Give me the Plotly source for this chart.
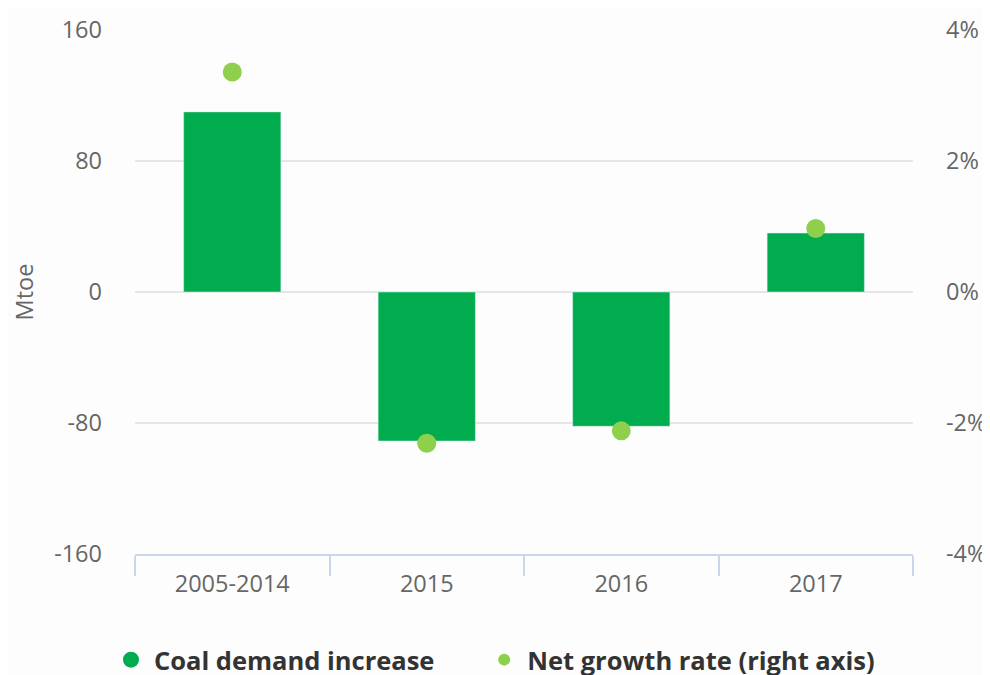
import plotly.graph_objects as go

categories = ["2005-2014", "2015", "2016", "2017"]
coal_demand_increase = [110, -91, -82, 36]
net_growth_rate = [3.36, -2.31, -2.12, 0.97]
left_ticks = [-160, -80, 0, 80, 160]
left_tick_labels = ["-160", "-80", "0", "80", "160"]
right_ticks = [-4, -2, 0, 2, 4]
right_tick_labels = ["-4%", "-2%", "0%", "2%", "4%"]

BAR = "#00ac4e"
DOT = "#8ed04b"
FONT = "Open Sans"
TICK = "#666666"
TS = 23.5
LEG_FONT = dict(family=FONT, size=25.5, color="#333333", weight="bold")

fig = go.Figure()
fig.add_trace(go.Bar(x=categories, y=coal_demand_increase, marker_color=BAR,
                     width=0.5, name="Coal demand increase", showlegend=False))
fig.add_trace(go.Scatter(x=categories, y=net_growth_rate, mode="markers", yaxis="y2",
                         marker=dict(color=DOT, size=19), name="Net growth rate (right axis)",
                         showlegend=False))
# legend entries (circle symbols as in the original)
fig.add_trace(go.Scatter(x=[None], y=[None], mode="markers", legend="legend",
                         marker=dict(color=BAR, size=16), name="Coal demand increase"))
fig.add_trace(go.Scatter(x=[None], y=[None], mode="markers", yaxis="y2", legend="legend2",
                         marker=dict(color=DOT, size=12), name="Net growth rate (right axis)"))

fig.update_layout(
    width=990, height=675,
    margin=dict(l=127, r=85, t=22, b=129),
    paper_bgcolor="#fdfdfd", plot_bgcolor="#fdfdfd",
    font=dict(family=FONT, color=TICK, size=TS),
    showlegend=True,
    legend=dict(orientation="h", xref="container", yref="container",
                x=0.101, xanchor="left", y=0.034, yanchor="middle",
                font=LEG_FONT, itemsizing="trace", itemwidth=36),
    legend2=dict(orientation="h", xref="container", yref="container",
                 x=0.478, xanchor="left", y=0.034, yanchor="middle",
                 font=LEG_FONT, itemsizing="trace", itemwidth=36),
    xaxis=dict(type="category", showgrid=False, showline=True, linecolor="#ccd6eb", linewidth=2,
               ticks="outside", tickson="boundaries", ticklen=20, tickcolor="#ccd6eb", tickwidth=2,
               tickfont=dict(family=FONT, size=TS, color=TICK), ticklabelstandoff=8,
               automargin=False),
    yaxis=dict(range=[-160, 160], tickvals=left_ticks, ticktext=left_tick_labels,
               showgrid=True, gridcolor="#e6e6e6",
               gridwidth=2, zeroline=True, zerolinecolor="#e6e6e6", zerolinewidth=2,
               tickfont=dict(family=FONT, size=TS, color=TICK), ticklabelstandoff=32,
               automargin=False,
               title=dict(text="Mtoe", font=dict(family=FONT, size=TS, color=TICK), standoff=22)),
    yaxis2=dict(range=[-4, 4], tickvals=right_ticks, ticktext=right_tick_labels,
                overlaying="y", side="right", showgrid=False, zeroline=False, automargin=False,
                tickfont=dict(family=FONT, size=TS, color=TICK), ticklabelstandoff=32),
)

fig.write_html("out.html")
